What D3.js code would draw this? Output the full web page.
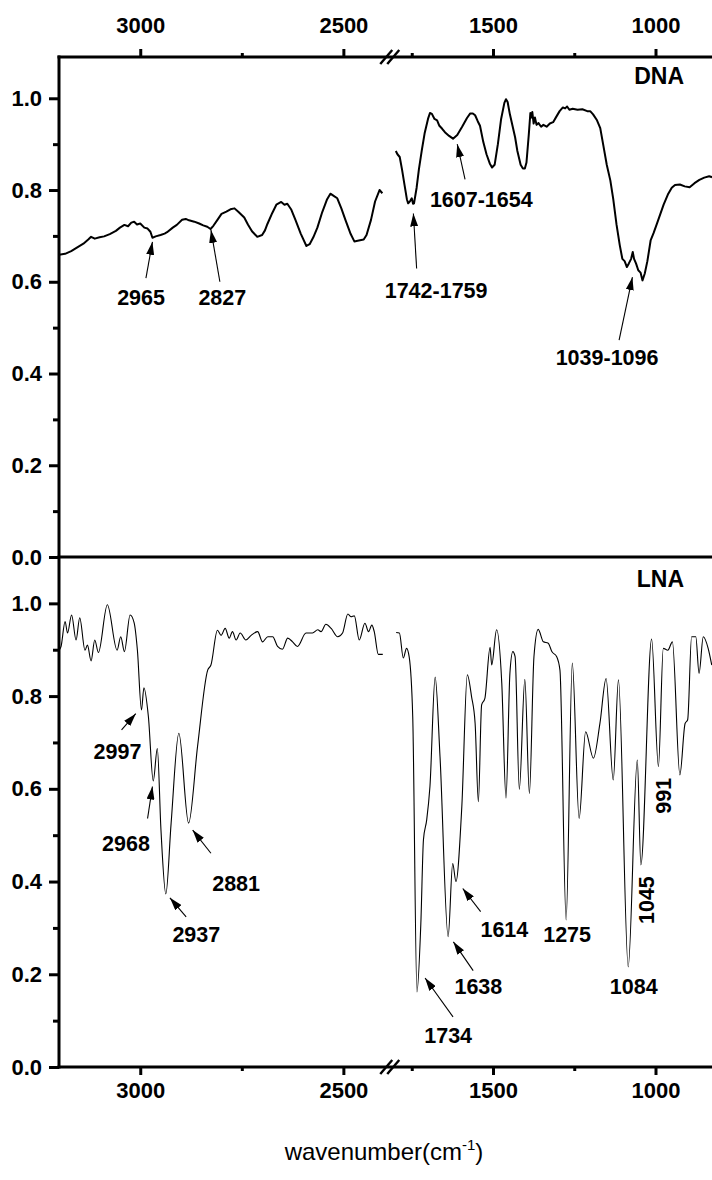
<!DOCTYPE html>
<html>
<head>
<meta charset="utf-8">
<script src="https://cdn.jsdelivr.net/npm/d3@7"></script>
<style>
  html, body { margin: 0; padding: 0; background: #fff; }
  svg { display: block; font-family: "Liberation Sans", Arial, sans-serif; }
</style>
</head>
<body>
<svg id="chart" width="712" height="1180"></svg>
<script>
// Wavenumber windows on either side of the axis break (cm^-1)
const leftRange = [3200, 2400];
const rightRange = [1800, 800];

// Axis ticks
const xTicksMajor = [3000, 2500, 1500, 1000];
const xTicksMinor = [2750, 1750, 1250];
const yTicksMajor = [0, 0.2, 0.4, 0.6, 0.8, 1.0];
const yTicksMinor = [0.1, 0.3, 0.5, 0.7, 0.9];

// DNA spectrum, high-wavenumber window [wavenumber, intensity]
const dnaHigh = [
  [3200,0.659],[3185,0.661],[3170,0.667],[3155,0.675],[3140,0.683],[3128,0.692],[3121,0.698],
  [3112,0.694],[3100,0.697],[3089,0.699],[3075,0.704],[3060,0.711],[3050,0.718],[3039,0.724],
  [3030,0.721],[3022,0.729],[3015,0.731],[3008,0.725],[3000,0.727],[2990,0.718],[2982,0.716],
  [2975,0.709],[2970,0.696],[2962,0.699],[2950,0.702],[2940,0.705],[2934,0.708],[2920,0.718],
  [2910,0.724],[2897,0.735],[2888,0.737],[2880,0.734],[2867,0.731],[2855,0.727],[2845,0.723],
  [2835,0.720],[2827,0.715],[2820,0.722],[2810,0.735],[2800,0.748],[2788,0.753],[2778,0.758],
  [2768,0.760],[2758,0.752],[2744,0.740],[2735,0.725],[2725,0.710],[2712,0.698],[2700,0.702],
  [2693,0.712],[2687,0.726],[2675,0.750],[2665,0.768],[2653,0.774],[2645,0.768],[2638,0.770],
  [2628,0.757],[2618,0.735],[2605,0.705],[2591,0.678],[2583,0.682],[2574,0.697],[2564,0.718],
  [2552,0.752],[2540,0.780],[2532,0.792],[2522,0.786],[2515,0.782],[2505,0.760],[2495,0.735],
  [2482,0.704],[2473,0.688],[2462,0.690],[2450,0.692],[2443,0.702],[2432,0.735],[2422,0.775],
  [2411,0.800],[2404,0.793]
];

// DNA spectrum, fingerprint window
const dnaLow = [
  [1799,0.885],[1794,0.878],[1787,0.872],[1780,0.845],[1772,0.810],[1765,0.780],[1761,0.771],
  [1755,0.776],[1750,0.782],[1746,0.770],[1743,0.771],[1735,0.805],[1728,0.845],[1719,0.887],
  [1710,0.925],[1700,0.955],[1694,0.968],[1688,0.966],[1680,0.955],[1672,0.952],[1665,0.940],
  [1657,0.934],[1648,0.926],[1635,0.918],[1623,0.912],[1610,0.920],[1595,0.938],[1580,0.957],
  [1570,0.967],[1562,0.967],[1555,0.963],[1547,0.950],[1540,0.940],[1530,0.905],[1520,0.878],
  [1510,0.858],[1503,0.849],[1495,0.855],[1485,0.900],[1475,0.955],[1465,0.990],[1460,0.998],
  [1455,0.992],[1448,0.965],[1440,0.940],[1432,0.915],[1425,0.885],[1415,0.855],[1408,0.847],
  [1402,0.847],[1397,0.860],[1390,0.920],[1385,0.968],[1382,0.958],[1379,0.970],[1375,0.945],
  [1371,0.958],[1366,0.942],[1360,0.946],[1352,0.938],[1345,0.942],[1335,0.938],[1325,0.945],
  [1315,0.948],[1305,0.960],[1295,0.972],[1285,0.980],[1278,0.978],[1272,0.982],[1265,0.975],
  [1255,0.977],[1240,0.975],[1225,0.976],[1210,0.972],[1201,0.972],[1192,0.965],[1180,0.952],
  [1170,0.935],[1160,0.895],[1150,0.855],[1139,0.821],[1130,0.780],[1120,0.725],[1110,0.680],
  [1102,0.650],[1095,0.645],[1088,0.632],[1082,0.640],[1075,0.650],[1070,0.665],[1066,0.650],
  [1060,0.640],[1053,0.625],[1046,0.620],[1040,0.603],[1033,0.618],[1025,0.645],[1015,0.690],
  [1006,0.706],[995,0.728],[985,0.748],[975,0.768],[962,0.790],[950,0.805],[940,0.811],
  [925,0.812],[910,0.808],[895,0.806],[880,0.815],[865,0.822],[850,0.827],[835,0.830],[826,0.828]
];

// LNA spectrum, high-wavenumber window
const lnaHigh = [
  [3200,0.899],[3195,0.907],[3185,0.961],[3179,0.936],[3169,0.975],[3158,0.921],[3149,0.969],
  [3136,0.899],[3130,0.910],[3121,0.876],[3112,0.921],[3103,0.894],[3081,0.997],[3057,0.899],
  [3048,0.928],[3039,0.896],[3025,0.975],[3015,0.958],[3007,0.899],[2997,0.770],[2991,0.818],
  [2980,0.756],[2968,0.617],[2958,0.687],[2949,0.511],[2937,0.373],[2924,0.526],[2905,0.720],
  [2881,0.526],[2859,0.691],[2834,0.856],[2826,0.867],[2810,0.942],[2801,0.931],[2791,0.946],
  [2781,0.925],[2773,0.939],[2764,0.921],[2754,0.936],[2740,0.921],[2727,0.931],[2711,0.939],
  [2699,0.917],[2686,0.928],[2674,0.928],[2662,0.907],[2650,0.901],[2637,0.925],[2625,0.917],
  [2613,0.907],[2592,0.936],[2576,0.936],[2563,0.943],[2555,0.939],[2543,0.955],[2530,0.946],
  [2514,0.928],[2502,0.936],[2489,0.977],[2481,0.971],[2473,0.973],[2461,0.921],[2447,0.957],
  [2438,0.939],[2430,0.953],[2424,0.939],[2414,0.890],[2403,0.890]
];

// LNA spectrum, fingerprint window
const lnaLow = [
  [1798,0.937],[1788,0.936],[1776,0.882],[1766,0.903],[1758,0.885],[1747,0.756],[1734,0.162],
  [1722,0.310],[1714,0.490],[1704,0.533],[1694,0.605],[1678,0.841],[1663,0.669],[1638,0.281],
  [1624,0.439],[1614,0.400],[1596,0.561],[1579,0.846],[1566,0.799],[1555,0.741],[1545,0.572],
  [1535,0.781],[1525,0.795],[1509,0.905],[1504,0.867],[1489,0.943],[1473,0.828],[1460,0.580],
  [1448,0.849],[1439,0.896],[1432,0.885],[1419,0.599],[1402,0.836],[1388,0.590],[1374,0.885],
  [1361,0.944],[1345,0.917],[1330,0.914],[1319,0.896],[1304,0.885],[1294,0.856],[1275,0.317],
  [1256,0.871],[1235,0.536],[1215,0.723],[1191,0.666],[1171,0.741],[1152,0.838],[1130,0.619],
  [1114,0.835],[1084,0.216],[1056,0.662],[1045,0.436],[1012,0.923],[991,0.648],[976,0.903],
  [962,0.899],[948,0.917],[925,0.630],[909,0.741],[901,0.749],[889,0.928],[876,0.928],
  [866,0.849],[853,0.928],[838,0.903],[827,0.867]
];

// Peak annotations: text, label centre, arrow tail, arrow tip (wavenumber, intensity)
const dnaNotes = [
  { text: "2965", at: [2998, 0.565], from: [2986, 0.608], to: [2970, 0.687] },
  { text: "2827", at: [2798, 0.565], from: [2804, 0.600], to: [2826, 0.713] },
  { text: "1742-1759", at: [1675, 0.582], from: [1735, 0.629], to: [1745, 0.749] },
  { text: "1607-1654", at: [1536, 0.779], from: [1586, 0.823], to: [1610, 0.900] },
  { text: "1039-1096", at: [1149, 0.434], from: [1112, 0.473], to: [1071, 0.610] }
];
const lnaNotes = [
  { text: "2997", at: [3056, 0.680], from: [3046, 0.727], to: [3011, 0.762] },
  { text: "2968", at: [3035, 0.483], from: [2982, 0.536], to: [2970, 0.605] },
  { text: "2937", at: [2862, 0.285], from: [2887, 0.324], to: [2927, 0.365] },
  { text: "2881", at: [2764, 0.396], from: [2826, 0.461], to: [2871, 0.511] },
  { text: "1734", at: [1638, 0.069], from: [1623, 0.108], to: [1709, 0.192] },
  { text: "1638", at: [1545, 0.173], from: [1561, 0.208], to: [1622, 0.270] },
  { text: "1614", at: [1465, 0.296], from: [1538, 0.335], to: [1593, 0.385] },
  { text: "1275", at: [1272, 0.285] },
  { text: "1084", at: [1067, 0.173] },
  { text: "1045", at: [1028, 0.360], rotate: true },
  { text: "991", at: [977, 0.585], rotate: true }
];

// ---- layout ----
const W = 712, H = 1180;
const plotL = 59, plotR = 712;
const topY = 57, midY = 557, botY = 1067;

const xL = d3.scaleLinear().domain(leftRange).range([59, 384]);
const xR = d3.scaleLinear().domain(rightRange).range([395.5, 720.5]);
const xAt = wn => (wn > 2000 ? xL(wn) : xR(wn));
const yTop = d3.scaleLinear().domain([0, 1.09]).range([midY, topY]);
const yBot = d3.scaleLinear().domain([0, 1.1]).range([botY, midY]);

const svg = d3.select("#chart");

svg.append("defs").append("clipPath").attr("id", "plotClip")
  .append("rect").attr("x", plotL).attr("y", topY)
  .attr("width", plotR - plotL).attr("height", botY - topY);

svg.select("defs").append("marker")
  .attr("id", "arrowHead")
  .attr("markerUnits", "userSpaceOnUse")
  .attr("viewBox", "0 0 13 8")
  .attr("markerWidth", 13).attr("markerHeight", 8)
  .attr("refX", 13).attr("refY", 4)
  .attr("orient", "auto")
  .append("path").attr("d", "M0,0 L13,4 L0,8 Z").attr("fill", "#000");

// ---- spectra ----
const curves = svg.append("g").attr("clip-path", "url(#plotClip)").attr("fill", "none").attr("stroke", "#000");

function spectrum(data, xs, ys, width, curve) {
  curves.append("path")
    .datum(data)
    .attr("stroke-width", width)
    .attr("stroke-linejoin", "round")
    .attr("d", d3.line().x(d => xs(d[0])).y(d => ys(d[1])).curve(curve));
}
spectrum(dnaHigh, xL, yTop, 2, d3.curveLinear);
spectrum(dnaLow, xR, yTop, 2, d3.curveLinear);
spectrum(lnaHigh, xL, yBot, 1.1, d3.curveMonotoneX);
spectrum(lnaLow, xR, yBot, 1.1, d3.curveMonotoneX);

// ---- axes ----
const boldFont = g => g.selectAll("text")
  .attr("font-family", "'Liberation Sans', Arial, sans-serif")
  .attr("font-weight", "bold").attr("font-size", 22).attr("fill", "#000");

function xAxis(y, gen, labelY, labelDy) {
  [xL, xR].forEach(s => {
    const [a, b] = s.domain();
    const inDom = v => v <= Math.max(a, b) && v >= Math.min(a, b);
    const major = svg.append("g").attr("transform", `translate(0,${y})`)
      .call(gen(s).tickValues(xTicksMajor.filter(inDom)).tickSize(8).tickFormat(d3.format("d")));
    major.select(".domain").remove();
    major.selectAll("line").attr("stroke-width", 3).attr("stroke", "#000");
    major.selectAll("text").attr("y", labelY).attr("dy", labelDy);
    major.call(boldFont);
    const minor = svg.append("g").attr("transform", `translate(0,${y})`)
      .call(gen(s).tickValues(xTicksMinor.filter(inDom)).tickSize(4).tickFormat(""));
    minor.select(".domain").remove();
    minor.selectAll("line").attr("stroke-width", 3).attr("stroke", "#000");
  });
}
xAxis(topY, d3.axisTop, -24, "0");
xAxis(botY, d3.axisBottom, 15, "0.71em");

function yAxis(ys) {
  const major = svg.append("g").attr("transform", `translate(${plotL},0)`)
    .call(d3.axisLeft(ys).tickValues(yTicksMajor).tickSize(10).tickPadding(7).tickFormat(d3.format(".1f")));
  major.select(".domain").remove();
  major.selectAll("line").attr("stroke-width", 3).attr("stroke", "#000");
  major.call(boldFont);
  const minor = svg.append("g").attr("transform", `translate(${plotL},0)`)
    .call(d3.axisLeft(ys).tickValues(yTicksMinor).tickSize(6).tickFormat(""));
  minor.select(".domain").remove();
  minor.selectAll("line").attr("stroke-width", 3).attr("stroke", "#000");
}
yAxis(yTop);
yAxis(yBot);

// frame lines
const frame = svg.append("g").attr("stroke", "#000").attr("stroke-width", 3);
[topY, midY, botY].forEach(y => {
  frame.append("line").attr("x1", plotL - 1.5).attr("x2", W).attr("y1", y).attr("y2", y);
});
frame.append("line").attr("x1", plotL).attr("x2", plotL).attr("y1", topY - 1.5).attr("y2", botY + 1.5);

// axis-break slashes
const breakX = (xL(leftRange[1]) + xR(rightRange[0])) / 2;
[topY, botY].forEach(y => {
  [-3.5, 3.5].forEach(off => {
    const c = breakX + off;
    svg.append("line")
      .attr("x1", c - 6).attr("y1", y + 7).attr("x2", c + 6).attr("y2", y - 7)
      .attr("stroke", "#000").attr("stroke-width", 2.4);
  });
});

// panel labels
svg.append("text").attr("x", 684).attr("y", 84).attr("text-anchor", "end")
  .attr("font-weight", "bold").attr("font-size", 23).text("DNA");
svg.append("text").attr("x", 684).attr("y", 587).attr("text-anchor", "end")
  .attr("font-weight", "bold").attr("font-size", 23).text("LNA");

// peak annotations
function annotate(notes, ys) {
  const g = svg.append("g");
  notes.forEach(n => {
    if (n.from) {
      g.append("line")
        .attr("x1", xAt(n.from[0])).attr("y1", ys(n.from[1]))
        .attr("x2", xAt(n.to[0])).attr("y2", ys(n.to[1]))
        .attr("stroke", "#000").attr("stroke-width", 1.1)
        .attr("marker-end", "url(#arrowHead)");
    }
    const t = g.append("text")
      .attr("text-anchor", "middle").attr("dy", "0.35em")
      .attr("font-weight", "bold").attr("font-size", 21.5)
      .text(n.text);
    const x = xAt(n.at[0]), y = ys(n.at[1]);
    if (n.rotate) t.attr("transform", `translate(${x},${y}) rotate(-90)`);
    else t.attr("x", x).attr("y", y);
  });
}
annotate(dnaNotes, yTop);
annotate(lnaNotes, yBot);

// x-axis title
const title = svg.append("text").attr("x", 384).attr("y", 1160)
  .attr("text-anchor", "middle").attr("font-size", 24);
title.append("tspan").text("wavenumber(cm");
title.append("tspan").attr("font-size", 15).attr("dy", -10).text("-1");
title.append("tspan").attr("dy", 10).text(")");
</script>
</body>
</html>
